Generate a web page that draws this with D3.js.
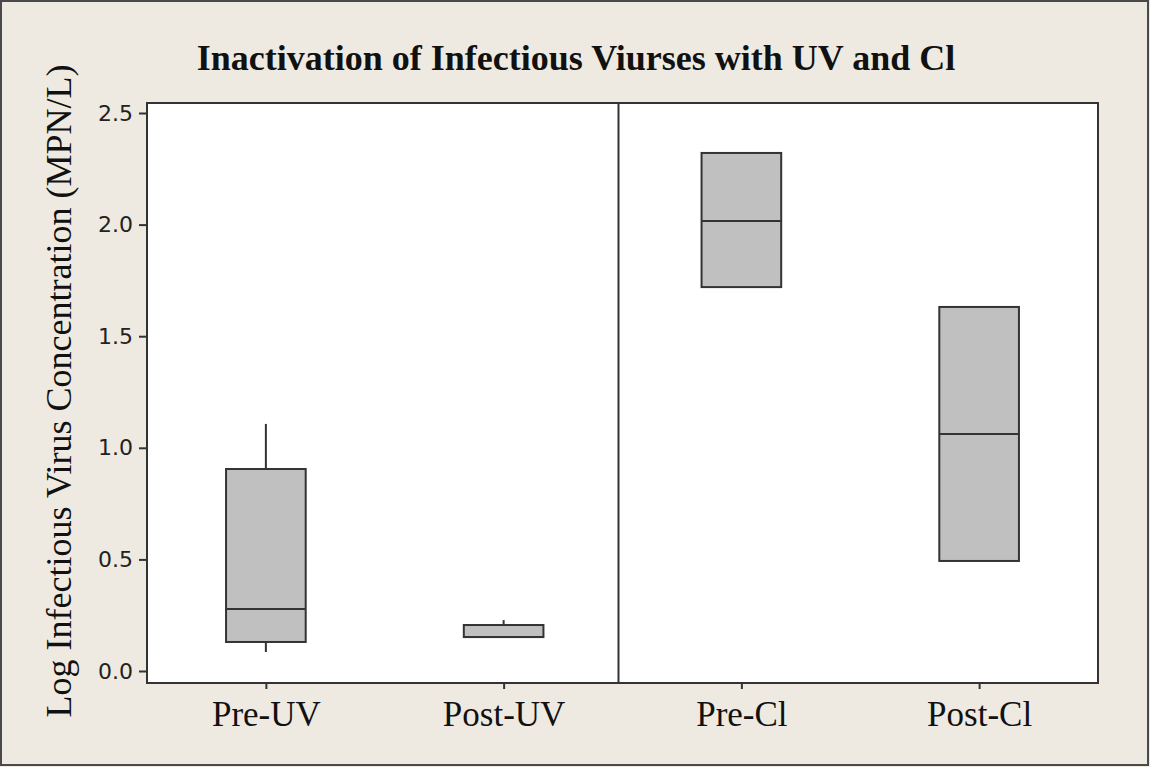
<!DOCTYPE html>
<html>
<head>
  <meta charset="utf-8">
  <script src="https://d3js.org/d3.v7.min.js"></script>
  <style>
    body { margin: 0; background: #eeeae1; }
  </style>
</head>
<body>
<div id="vis"></div>
<script>
  // values
  var groups = ['Pre-UV', 'Post-UV', 'Pre-Cl', 'Post-Cl'];
  var q1 = [0.13, 0.152, 1.72, 0.493];
  var median = [0.278, 0.152, 2.016, 1.062];
  var q3 = [0.905, 0.206, 2.321, 1.631];
  var whiskLo = [0.085, 0.152, 1.72, 0.493];
  var whiskHi = [1.107, 0.228, 2.321, 1.631];
  var yTicks = [0.0, 0.5, 1.0, 1.5, 2.0, 2.5];

  var width = 1150, height = 767;
  var plot = { left: 147, right: 1098, top: 103, bottom: 683 };

  var svg = d3.select('#vis')
    .append('svg')
    .attr('width', width)
    .attr('height', height);

  // outer frame
  svg.append('rect')
    .attr('x', 1).attr('y', 1)
    .attr('width', width - 3).attr('height', height - 3)
    .attr('fill', '#eeeae1')
    .attr('stroke', '#4a4a4a')
    .attr('stroke-width', 2);

  var x = d3.scalePoint()
    .domain(groups)
    .range([plot.left, plot.right])
    .padding(0.5);
  var step = x.step();

  var y = d3.scaleLinear()
    .domain([0, 2.5])
    .range([671, 113]);

  svg.append('rect')
    .attr('x', plot.left).attr('y', plot.top)
    .attr('width', plot.right - plot.left)
    .attr('height', plot.bottom - plot.top)
    .attr('fill', 'white');

  // y axis
  var yAxis = svg.append('g')
    .attr('transform', 'translate(' + plot.left + ',0)')
    .call(d3.axisLeft(y).tickValues(yTicks).tickFormat(d3.format('.1f')).tickSize(8).tickPadding(6));
  yAxis.select('.domain').remove();
  yAxis.selectAll('line').attr('stroke', '#333').attr('stroke-width', 2);
  yAxis.selectAll('text')
    .attr('fill', '#222')
    .style('font-family', 'DejaVu Sans, sans-serif')
    .style('font-size', '22px');

  // x axis
  var xAxis = svg.append('g')
    .attr('transform', 'translate(0,' + plot.bottom + ')')
    .call(d3.axisBottom(x).tickSize(6).tickPadding(12));
  xAxis.select('.domain').remove();
  xAxis.selectAll('line').attr('stroke', '#333').attr('stroke-width', 2);
  xAxis.selectAll('text')
    .attr('fill', '#111')
    .attr('dy', '0.71em')
    .style('font-family', 'Liberation Serif, Times New Roman, serif')
    .style('font-size', '35px');

  // divider between UV and Cl panels
  svg.append('line')
    .attr('x1', (x('Post-UV') + x('Pre-Cl')) / 2 - 4)
    .attr('x2', (x('Post-UV') + x('Pre-Cl')) / 2 - 4)
    .attr('y1', plot.top).attr('y2', plot.bottom)
    .attr('stroke', '#333').attr('stroke-width', 2);

  var boxW = step * 0.335;

  var boxes = svg.selectAll('g.box')
    .data(groups)
    .enter().append('g')
    .attr('class', 'box');

  boxes.append('line')
    .attr('x1', d => x(d)).attr('x2', d => x(d))
    .attr('y1', (d, i) => y(whiskHi[i])).attr('y2', (d, i) => y(q3[i]))
    .attr('stroke', '#333').attr('stroke-width', 2);
  boxes.append('line')
    .attr('x1', d => x(d)).attr('x2', d => x(d))
    .attr('y1', (d, i) => y(whiskLo[i])).attr('y2', (d, i) => y(q1[i]))
    .attr('stroke', '#333').attr('stroke-width', 2);

  boxes.append('rect')
    .attr('x', d => x(d) - boxW / 2)
    .attr('width', boxW)
    .attr('y', (d, i) => y(q3[i]))
    .attr('height', (d, i) => y(q1[i]) - y(q3[i]))
    .attr('fill', '#c0c0c0')
    .attr('stroke', '#333').attr('stroke-width', 2);

  boxes.append('line')
    .attr('x1', d => x(d) - boxW / 2).attr('x2', d => x(d) + boxW / 2)
    .attr('y1', (d, i) => y(median[i])).attr('y2', (d, i) => y(median[i]))
    .attr('stroke', '#333').attr('stroke-width', 2);

  // plot frame
  svg.append('rect')
    .attr('x', plot.left).attr('y', plot.top)
    .attr('width', plot.right - plot.left)
    .attr('height', plot.bottom - plot.top)
    .attr('fill', 'none')
    .attr('stroke', '#333').attr('stroke-width', 2);

  // title
  svg.append('text')
    .attr('x', 576).attr('y', 70)
    .attr('text-anchor', 'middle')
    .style('font-family', 'Liberation Serif, Times New Roman, serif')
    .style('font-weight', 'bold')
    .style('font-size', '36px')
    .attr('fill', '#111')
    .text('Inactivation of Infectious Viurses with UV and Cl');

  svg.append('text')
    .attr('transform', 'translate(71,391) rotate(-90)')
    .attr('text-anchor', 'middle')
    .style('font-family', 'Liberation Serif, Times New Roman, serif')
    .style('font-size', '36px')
    .attr('fill', '#111')
    .text('Log Infectious Virus Concentration (MPN/L)');
</script>
</body>
</html>
